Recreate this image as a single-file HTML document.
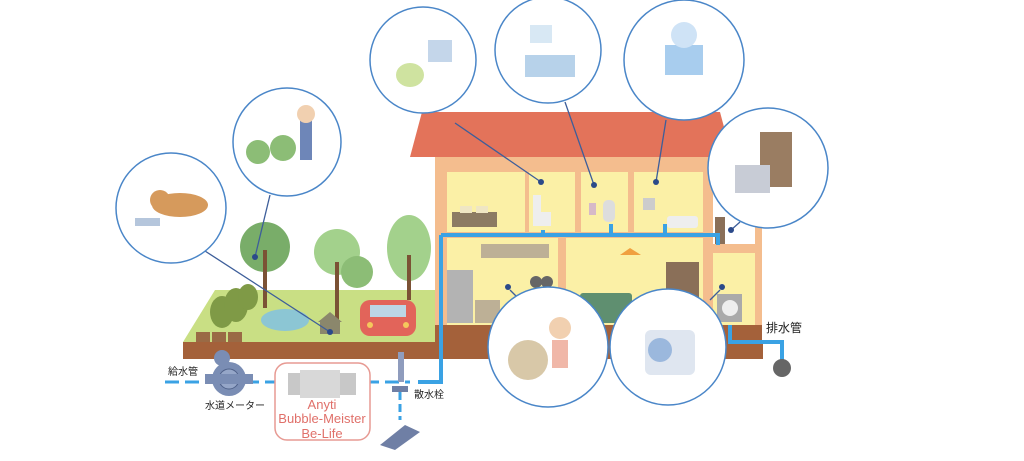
<!DOCTYPE html>
<html><head><meta charset="utf-8"><style>
html,body{margin:0;padding:0;background:#fff;width:1024px;height:461px;overflow:hidden}
svg{display:block}
text{font-family:"Liberation Sans","Noto Sans CJK JP",sans-serif}
</style></head><body>
<svg width="1024" height="461" viewBox="0 0 1024 461" xmlns="http://www.w3.org/2000/svg">
<!-- garden -->
<polygon points="215,290 436,290 436,342 183,342" fill="#c9df84"/>
<rect x="183" y="342" width="580" height="17" fill="#a4613a"/>
<rect x="196" y="332" width="14" height="10" fill="#9a6a45"/><rect x="212" y="332" width="14" height="10" fill="#9a6a45"/><rect x="228" y="332" width="14" height="10" fill="#9a6a45"/>
<ellipse cx="222" cy="312" rx="12" ry="16" fill="#7f9a46"/><ellipse cx="236" cy="305" rx="12" ry="17" fill="#7f9a46"/><ellipse cx="248" cy="297" rx="10" ry="13" fill="#7f9a46"/>
<ellipse cx="285" cy="320" rx="24" ry="11" fill="#8cc6d4"/>
<!-- trees -->
<circle cx="265" cy="247" r="25" fill="#79ad69"/><rect x="263" y="250" width="4" height="58" fill="#7b5235"/>
<circle cx="337" cy="252" r="23" fill="#a3d18c"/><circle cx="357" cy="272" r="16" fill="#8cbd76"/><rect x="335" y="262" width="4" height="60" fill="#7b5235"/>
<ellipse cx="409" cy="248" rx="22" ry="33" fill="#a3d18c"/><rect x="407" y="255" width="4" height="45" fill="#7b5235"/>
<!-- dog house -->
<polygon points="318,322 330,312 342,322" fill="#8b876c"/><rect x="320" y="320" width="20" height="14" fill="#8b876c"/>
<!-- car -->
<rect x="360" y="300" width="56" height="36" rx="10" fill="#e2645a"/><rect x="370" y="305" width="36" height="12" fill="#bcd6e6"/>
<circle cx="370" cy="325" r="3" fill="#f5c85c"/><circle cx="406" cy="325" r="3" fill="#f5c85c"/>
<!-- house -->
<polygon points="422,112 720,112 732,157 410,157" fill="#e3735a"/>
<rect x="435" y="157" width="327" height="185" fill="#f4bd8e"/>
<rect x="447" y="172" width="78" height="60" fill="#fbf0a6"/>
<rect x="529" y="172" width="46" height="60" fill="#fbf0a6"/>
<rect x="581" y="172" width="47" height="60" fill="#fbf0a6"/>
<rect x="634" y="172" width="69" height="60" fill="#fbf0a6"/>
<rect x="713" y="172" width="42" height="72" fill="#fff"/>
<rect x="447" y="238" width="111" height="87" fill="#fbf0a6"/>
<rect x="566" y="238" width="137" height="87" fill="#fbf0a6"/>
<rect x="713" y="253" width="42" height="72" fill="#fbf0a6"/>
<rect x="435" y="325" width="327" height="17" fill="#a4613a"/>
<!-- furniture -->
<rect x="452" y="212" width="45" height="15" fill="#8c7b63"/><rect x="460" y="206" width="12" height="7" fill="#efe6c4"/><rect x="476" y="206" width="12" height="7" fill="#efe6c4"/>
<rect x="533" y="195" width="8" height="18" fill="#eee"/><rect x="533" y="212" width="18" height="14" fill="#eee"/>
<rect x="603" y="200" width="12" height="22" rx="5" fill="#ddd"/><rect x="589" y="203" width="7" height="12" fill="#d6b9c8"/>
<rect x="643" y="198" width="12" height="12" fill="#ccc"/><rect x="667" y="216" width="31" height="12" rx="3" fill="#eee"/>
<rect x="715" y="217" width="10" height="27" fill="#8a6f58"/>
<rect x="481" y="244" width="68" height="14" fill="#bdb096"/>
<rect x="447" y="270" width="26" height="53" fill="#b3b3b3"/>
<rect x="475" y="300" width="25" height="23" fill="#bdb096"/>
<circle cx="536" cy="282" r="6" fill="#666"/><circle cx="547" cy="282" r="6" fill="#666"/>
<polygon points="620,255 630,248 641,255" fill="#f0a040"/>
<rect x="666" y="262" width="33" height="50" fill="#8a6f58"/>
<rect x="580" y="293" width="52" height="30" rx="3" fill="#5f8f70"/>
<rect x="717" y="294" width="25" height="28" fill="#aaa"/><circle cx="730" cy="308" r="8" fill="#eee"/>
<!-- water pipes -->
<g stroke="#3aa2e4" stroke-width="4" fill="none">
<path d="M441,235 H718 V245"/>
<path d="M441,235 V382 H418"/>
<path d="M543,230 V235 M611,224 V235 M665,224 V235"/>
<path d="M495,325 V340 M730,325 V342 H782 V360"/>
<path d="M165,382 H410" stroke-dasharray="14,6" stroke-width="3"/>
<path d="M400,392 V420" stroke-dasharray="8,4" stroke-width="3"/>
</g>
<circle cx="782" cy="368" r="9" fill="#666"/>
<!-- meter -->
<circle cx="229" cy="379" r="17" fill="#7a8db4"/><circle cx="229" cy="379" r="10" fill="#95a6c8" stroke="#50628a"/>
<rect x="205" y="374" width="48" height="10" fill="#7a8db4"/>
<circle cx="222" cy="358" r="8" fill="#7a8db4"/>
<!-- be-life -->
<rect x="275" y="363" width="95" height="77" rx="12" fill="#fff" stroke="#e79a93" stroke-width="1.5"/>
<rect x="288" y="373" width="68" height="22" fill="#c8c8c8"/><rect x="300" y="370" width="40" height="28" fill="#d8d8d8"/>
<text x="322" y="409" font-size="13" fill="#e0706a" text-anchor="middle">Anyti</text>
<text x="322" y="423" font-size="13" fill="#e0706a" text-anchor="middle">Bubble-Meister</text>
<text x="322" y="438" font-size="13" fill="#e0706a" text-anchor="middle">Be-Life</text>
<!-- faucet -->
<rect x="398" y="352" width="6" height="30" fill="#8f9cbd"/><rect x="392" y="386" width="16" height="6" fill="#6f7fa5"/>
<polygon points="380,445 405,425 420,432 395,450" fill="#6f7fa5"/>
<!-- labels -->
<g font-size="10" fill="#222">
<text x="168" y="375">給水管</text>
<text x="205" y="409">水道メーター</text>
<text x="414" y="398">散水栓</text>
<text x="766" y="332" font-size="12">排水管</text>
</g>
<!-- connectors -->
<g stroke="#3d5e9a" stroke-width="1.3">
<line x1="205" y1="251" x2="330" y2="332"/>
<line x1="270" y1="195" x2="255" y2="257"/>
<line x1="455" y1="123" x2="541" y2="182"/>
<line x1="565" y1="102" x2="594" y2="185"/>
<line x1="666" y1="120" x2="656" y2="182"/>
<line x1="740" y1="222" x2="731" y2="230"/>
<line x1="510" y1="290" x2="520" y2="300"/>
<line x1="720" y1="290" x2="710" y2="300"/>
</g>
<g fill="#2b4a8a"><circle cx="330" cy="332" r="3"/><circle cx="255" cy="257" r="3"/><circle cx="541" cy="182" r="3"/><circle cx="594" cy="185" r="3"/><circle cx="656" cy="182" r="3"/><circle cx="731" cy="230" r="3"/><circle cx="508" cy="287" r="3"/><circle cx="722" cy="287" r="3"/></g>
<!-- callout circles -->
<g fill="#fff" stroke="#4a86c8" stroke-width="1.5">
<circle cx="171" cy="208" r="55"/>
<circle cx="287" cy="142" r="54"/>
<circle cx="423" cy="60" r="53"/>
<circle cx="548" cy="50" r="53"/>
<circle cx="684" cy="60" r="60"/>
<circle cx="768" cy="168" r="60"/>
<circle cx="548" cy="347" r="60"/>
<circle cx="668" cy="347" r="58"/>
</g>
<!-- circle contents (simplified) -->
<ellipse cx="180" cy="205" rx="28" ry="12" fill="#d69a5c"/><circle cx="160" cy="200" r="10" fill="#d69a5c"/><rect x="135" y="218" width="25" height="8" fill="#b5c6dc"/>
<circle cx="258" cy="152" r="12" fill="#8cbd76"/><circle cx="283" cy="148" r="13" fill="#8cbd76"/><rect x="300" y="120" width="12" height="40" fill="#6e86b8"/><circle cx="306" cy="114" r="9" fill="#f1d0b0"/>
<ellipse cx="410" cy="75" rx="14" ry="12" fill="#cfe3a0"/><rect x="428" y="40" width="24" height="22" fill="#c4d6ea"/>
<rect x="525" y="55" width="50" height="22" fill="#b7d2ea"/><rect x="530" y="25" width="22" height="18" fill="#d8e8f4"/>
<rect x="665" y="45" width="38" height="30" fill="#a8cdee"/><circle cx="684" cy="35" r="13" fill="#cfe3f6"/>
<rect x="760" y="132" width="32" height="55" fill="#9a7d62"/><rect x="735" y="165" width="35" height="28" fill="#c8ccd6"/>
<circle cx="528" cy="360" r="20" fill="#d8c8a8"/><circle cx="560" cy="328" r="11" fill="#f1d0b0"/><rect x="552" y="340" width="16" height="28" fill="#f0b7a8"/>
<rect x="645" y="330" width="50" height="45" rx="6" fill="#dfe6f0"/><circle cx="660" cy="350" r="12" fill="#9bb8dd"/>
</svg>
</body></html>
